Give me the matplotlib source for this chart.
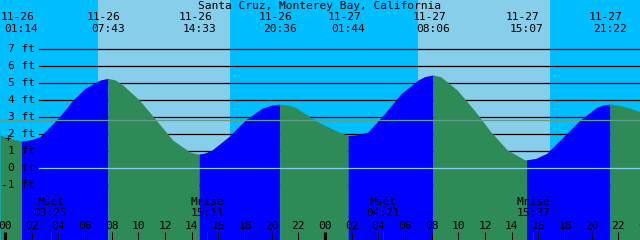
import matplotlib.pyplot as plt

# tide heights (ft); hours counted from 11-26 00:00
tide_hours = [-0.375, 0.375, 1.233, 2.03, 2.625, 3.975, 5.1, 6.0, 7.125, 7.717,
              8.25, 8.83, 10.07, 11.33, 12.58, 13.82, 14.1, 14.55, 15.0, 15.53,
              16.78, 18.02, 19.27, 20.0, 20.6, 21.2, 21.77, 23.03, 23.48, 24.73,
              25.733, 26.4, 27.23, 28.48, 29.72, 30.98, 31.5, 32.1, 32.68, 33.92,
              35.18, 36.43, 37.67, 38.93, 39.117, 39.8, 40.63, 41.88, 43.13, 44.38,
              44.85, 45.367, 46.0, 46.88, 47.625]
tide_ft = [1.96, 1.75, 1.60, 1.70, 1.86, 2.94, 4.02, 4.70, 5.19, 5.29,
           5.20, 4.90, 4.02, 2.84, 1.66, 0.98, 0.90, 0.84, 0.90, 1.08,
           1.86, 2.84, 3.53, 3.72, 3.78, 3.72, 3.59, 2.95, 2.72, 2.25,
           1.92, 1.97, 2.15, 3.23, 4.41, 5.19, 5.40, 5.49, 5.39, 4.60,
           3.43, 2.15, 1.08, 0.52, 0.50, 0.58, 0.88, 1.86, 2.84, 3.59,
           3.72, 3.78, 3.72, 3.53, 3.33]

# highs and lows
extreme_dates = ['11-26', '11-26', '11-26', '11-26', '11-27', '11-27', '11-27', '11-27']
extreme_times = ['01:14', '07:43', '14:33', '20:36', '01:44', '08:06', '15:07', '21:22']

# moon events
moon_names = ['Mset', 'Mrise', 'Mset', 'Mrise']
moon_dates = ['11-26', '11-26', '11-27', '11-27']
moon_times = ['03:25', '15:11', '04:21', '15:37']

# daylight (sunrise, sunset) in hours
day_spans = [(6.975, 16.875), (30.975, 40.875)]

ft_levels = [7, 6, 5, 4, 3, 2, 1, 0, -1]
mean_level = 2.82

title = 'Santa Cruz, Monterey Bay, California'


def to_hours(date, hhmm):
    day = int(date.split('-')[1]) - 26
    hh, mm = hhmm.split(':')
    return day * 24 + int(hh) + int(mm) / 60


t0, t1 = -0.375, 47.625
y0, y1 = -4.218, 9.9

fig = plt.figure(figsize=(6.4, 2.4), dpi=100)
ax = fig.add_axes([0, 0, 1, 1])
ax.set_xlim(t0, t1)
ax.set_ylim(y0, y1)
ax.axis('off')

font = dict(family='DejaVu Sans Mono', fontsize=8.1, color='black')
xt = ax.get_xaxis_transform()

# night / day background
ax.axvspan(t0, t1, color='#00BFFF', zorder=0, lw=0)
for a, b in day_spans:
    ax.axvspan(a, b, color='#87CEEB', zorder=0.5, lw=0)

# grid lines behind the water
for lv in ft_levels:
    if lv != 0:
        ax.axhline(lv, xmin=39 / 640, xmax=1, color='black', lw=0.9, zorder=1)

# water, blue when rising, green when falling
ext_hours = [to_hours(d, t) for d, t in zip(extreme_dates, extreme_times)]
bounds = [t0] + ext_hours + [t1]
for a, b in zip(bounds[:-1], bounds[1:]):
    pts = [(h, v) for h, v in zip(tide_hours, tide_ft) if a - 0.01 <= h <= b + 0.01]
    hs = [p[0] for p in pts]
    vs = [p[1] for p in pts]
    col = '#0000FF' if vs[-1] > vs[0] else '#2E8B57'
    ax.fill_between(hs, vs, y0, color=col, lw=0, antialiased=False, zorder=2)

ax.axhline(mean_level, color='#5E9E8A', lw=0.9, zorder=3)
ax.axhline(0, xmin=39 / 640, xmax=1, color='#87CEEB', lw=0.9, zorder=3)

# left labels
for lv in ft_levels:
    ax.text(35 / 640, lv, f'{lv} ft', transform=ax.get_yaxis_transform(),
            ha='right', va='center', zorder=5, **font)
ax.text(0.225, 1.78, '+', ha='center', va='center', zorder=5, **font)

# title and extreme labels
ax.text(0.5, 0.976, title, transform=ax.transAxes, ha='center', va='center',
        zorder=5, **font)
for h, d, t in zip(ext_hours, extreme_dates, extreme_times):
    ax.text(h - 0.3, 0.929, d, transform=xt, ha='center', va='center', zorder=5, **font)
    ax.text(h, 0.879, t, transform=xt, ha='center', va='center', zorder=5, **font)

# moon events
for n, d, t in zip(moon_names, moon_dates, moon_times):
    h = to_hours(d, t)
    ax.text(h, 0.16, n, transform=xt, ha='center', va='center', zorder=5, **font)
    ax.text(h, 0.1125, t, transform=xt, ha='center', va='center', zorder=5, **font)
    ax.plot([h, h], [0, 0.035], transform=xt, color='#333333', lw=0.72, zorder=5)

# hour ticks
for h in range(0, 50, 2):
    lw = 2.2 if h % 24 == 0 else 0.72
    ax.plot([h, h], [0, 0.035], transform=xt, color='black', lw=lw, zorder=5,
            solid_capstyle='butt')
    ax.text(h, 0.0596, f'{h % 24:02d}', transform=xt, ha='center', va='center',
            zorder=5, clip_on=True, **font)

fig.savefig('out.png', dpi=100)
